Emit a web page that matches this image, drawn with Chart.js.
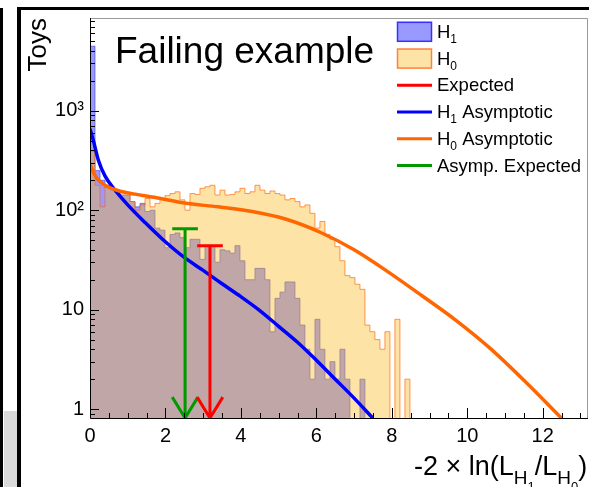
<!DOCTYPE html>
<html>
<head>
<meta charset="utf-8">
<title>Failing example</title>
<script src="https://cdn.jsdelivr.net/npm/chart.js@4.4.1/dist/chart.umd.min.js"></script>
<style>
  html, body { margin: 0; padding: 0; background: #fff; overflow: hidden; }
  #wrap { position: relative; width: 589px; height: 487px; }
  .edge { position: absolute; background: #000; }
  #gray { position: absolute; left: 4px; top: 411px; width: 13px; height: 76px; background: #d9d9d9; }
  canvas { position: absolute; left: 0; top: 0; }
</style>
</head>
<body>
<div id="wrap">
  <div class="edge" style="left:0;top:8px;width:3px;height:479px"></div>
  <div id="gray"></div>
  <div class="edge" style="left:17px;top:7px;width:4px;height:480px"></div>
  <div class="edge" style="left:17px;top:7px;width:572px;height:3px"></div>
  <canvas id="toysChart" width="589" height="487"></canvas>
</div>
<script>
'use strict';
// ******* Data *******
let binWidth = 0.1325;

// toys per bin, bin i = [i*binWidth, (i+1)*binWidth]
let h1Counts = [4450, 250, 200, 170, 160, 150, 142, 142, 122, 108,
  117, 97, 100, 66, 63, 42, 57, 59, 53, 42,
  51, 51, 32, 44, 44, 30, 40, 39, 37, 44,
  31, 20, 20, 26, 26, 20, 6, 13, 15, 19,
  19, 13, 7, 4, 2, 8, 4, 2, 3, 2,
  4, 2, 0, 0, 2];
let h0Counts = [390, 178, 108, 178, 166, 156, 153, 150, 122, 100,
  113, 131, 108, 117, 131, 140, 147, 153, 127, 100,
  147, 144, 166, 172, 178, 142, 159, 142, 144, 153,
  166, 147, 153, 178, 159, 147, 156, 147, 142, 127,
  131, 122, 108, 113, 93, 66, 77, 57, 51, 43,
  31, 22, 21, 18, 16, 7, 6, 5, 4, 6,
  0, 8, 0, 2];

// asymptotic curves
let h1AsymX = [0, 0.09, 0.22, 0.4, 0.66, 1.0, 1.46, 1.9, 2.5, 3.0, 3.5, 4.0, 4.5, 5.0, 5.5, 6.0, 6.5, 7.0, 7.5];
let h1AsymY = [660, 500, 320, 220, 160, 113, 75, 52, 33.5, 24.8, 18.2, 13.5, 9.8, 6.8, 4.7, 3.1, 2.0, 1.29, 0.81];
let h0AsymX = [0, 0.1, 0.2, 0.4, 0.8, 1.2, 1.7, 2.5, 3.4, 4.3, 5.2, 6.1, 7.0, 7.9, 8.8, 9.7, 10.6, 11.5, 12.5];
let h0AsymY = [286, 235, 205, 178, 155, 145, 135, 118, 108, 97, 81, 60, 40, 24, 13.8, 7.8, 4.1, 1.95, 0.81];

// arrows: position, top value, half width of bar / head, head height
let expectedX = 3.18;
let expectedTop = 44;
let asympExpectedX = 2.52;
let asympExpectedTop = 65;
let arrowHalf = 0.34;
let arrowHeadY = 1.32;

// axes
let xMin = 0;
let xMax = 13.2;
let yMin = 0.814;
let yMax = 8555;
let emptyLevel = 0.3;
let xTicks = [0, 2, 4, 6, 8, 10, 12];
let yTicks = [1, 10, 100, 1000];
let yTickLabels = ['1', '10', '10²', '10³'];

let legendNames = ['H_1', 'H_0', 'Expected', 'H_1 Asymptotic', 'H_0 Asymptotic', 'Asymp. Expected'];
let titleText = 'Failing example';
// [text, level] level 0 = normal, 1 = subscript, 2 = sub-subscript
let xTitleParts = [['-2 × ln(L', 0], ['H', 1], ['1', 2], ['/L', 0], ['H', 1], ['0', 2], [')', 0]];

const FONT = '"Liberation Sans", Arial, Helvetica, sans-serif';

// ****** helpers ******
function histPoints(counts) {
  let pts = [];
  for (let i = 0; i < counts.length; i++) {
    pts.push({x: i * binWidth, y: counts[i] > 0 ? counts[i] : emptyLevel});
  }
  pts.push({x: counts.length * binWidth, y: emptyLevel});
  return pts;
}

function curvePoints(xs, ys) {
  return xs.map((x, i) => ({x: x, y: ys[i]}));
}

function arrowPoints(x, top) {
  return [
    {x: x - arrowHalf, y: top}, {x: x + arrowHalf, y: top},
    {x: x, y: null},
    {x: x, y: top}, {x: x, y: yMin},
    {x: x, y: null},
    {x: x - arrowHalf, y: arrowHeadY}, {x: x, y: yMin}, {x: x + arrowHalf, y: arrowHeadY}
  ];
}

// ****** decorations: ROOT style axes, title, legend ******
let rootDecor = {
  id: 'rootDecor',
  afterDatasetsDraw(chart) {
    let {ctx, chartArea} = chart;
    let xs = chart.scales.x;
    let ys = chart.scales.y;
    ctx.save();
    // frame
    ctx.strokeStyle = '#999';
    ctx.lineWidth = 1;
    ctx.beginPath();
    ctx.moveTo(chartArea.left, chartArea.top + 0.5);
    ctx.lineTo(chartArea.right - 0.5, chartArea.top + 0.5);
    ctx.lineTo(chartArea.right - 0.5, chartArea.bottom);
    ctx.stroke();
    // axes
    ctx.strokeStyle = '#000';
    ctx.beginPath();
    ctx.moveTo(chartArea.left + 0.5, chartArea.top);
    ctx.lineTo(chartArea.left + 0.5, chartArea.bottom + 0.5);
    ctx.lineTo(chartArea.right, chartArea.bottom + 0.5);
    ctx.stroke();
    // x ticks
    ctx.beginPath();
    for (let v = 0; v <= xMax; v += 0.5) {
      let px = Math.round(xs.getPixelForValue(v)) + 0.5;
      let len = (v % 2 === 0) ? 10 : 5;
      ctx.moveTo(px, chartArea.bottom);
      ctx.lineTo(px, chartArea.bottom - len);
    }
    // y ticks
    for (let d = -1; d <= 3; d++) {
      for (let m = 1; m <= 9; m++) {
        let v = m * Math.pow(10, d);
        if (v < yMin || v > yMax) continue;
        let py = Math.round(ys.getPixelForValue(v)) + 0.5;
        let len = m === 1 ? 9 : 5;
        ctx.moveTo(chartArea.left, py);
        ctx.lineTo(chartArea.left + len, py);
      }
    }
    ctx.stroke();
    ctx.restore();
  },
  afterDraw(chart) {
    let ctx = chart.ctx;
    let sets = chart.data.datasets;
    ctx.save();
    ctx.fillStyle = '#000';
    ctx.textBaseline = 'alphabetic';
    // title
    ctx.font = '37px ' + FONT;
    ctx.fillText(titleText, 115, 63);

    // legend
    let rowTop = 31.8;
    let rowStep = 26.75;
    for (let i = 0; i < legendNames.length; i++) {
      let cy = rowTop + i * rowStep;
      let ds = sets[i];
      if (ds.fill) {
        ctx.fillStyle = '#fff';
        ctx.fillRect(397, cy - 10, 35, 20);
        ctx.fillStyle = ds.backgroundColor;
        ctx.fillRect(397, cy - 10, 35, 20);
        ctx.strokeStyle = ds.legendEdge;
        ctx.lineWidth = 1.5;
        ctx.strokeRect(397.5, cy - 9.5, 34, 19);
      } else {
        ctx.strokeStyle = ds.borderColor;
        ctx.lineWidth = 3;
        ctx.beginPath();
        ctx.moveTo(397, cy);
        ctx.lineTo(432, cy);
        ctx.stroke();
      }
      ctx.fillStyle = '#000';
      let x = 437;
      let pieces = legendNames[i].split(/_(\d)/);
      for (let k = 0; k < pieces.length; k++) {
        if (!pieces[k]) continue;
        let sub = k % 2 === 1;
        ctx.font = (sub ? 12 : 18.5) + 'px ' + FONT;
        ctx.fillText(pieces[k], x, cy + 6 + (sub ? 5 : 0));
        x += ctx.measureText(pieces[k]).width;
      }
    }

    // x axis title
    let sizes = [27, 19, 13];
    let drops = [0, 9, 16];
    let x = 414;
    for (let p of xTitleParts) {
      ctx.font = sizes[p[1]] + 'px ' + FONT;
      ctx.fillText(p[0], x, 475 + drops[p[1]]);
      x += ctx.measureText(p[0]).width;
    }
    ctx.restore();
  }
};

// ****** Chart ******
Chart.defaults.font.family = FONT;
let ctx = document.getElementById('toysChart');

let toysChartObj = {
  type: 'line',
  data: {
    datasets: [{
      label: 'H₁',
      data: histPoints(h1Counts),
      stepped: true,
      fill: 'start',
      backgroundColor: 'rgba(0,0,255,0.4)',
      borderColor: 'rgba(70,70,210,0.65)',
      legendEdge: '#3333ff',
      borderWidth: 1,
      order: 6
    },
    {
      label: 'H₀',
      data: histPoints(h0Counts),
      stepped: true,
      fill: 'start',
      backgroundColor: 'rgba(250,185,32,0.4)',
      borderColor: 'rgba(255,100,0,0.65)',
      legendEdge: '#ff8040',
      borderWidth: 1,
      order: 5
    },
    {
      label: 'Expected',
      data: arrowPoints(expectedX, expectedTop),
      borderColor: '#ff0000',
      borderWidth: 3,
      fill: false,
      spanGaps: false,
      order: 0
    },
    {
      label: 'H₁ Asymptotic',
      data: curvePoints(h1AsymX, h1AsymY),
      borderColor: '#0000ff',
      borderWidth: 3.5,
      cubicInterpolationMode: 'monotone',
      fill: false,
      order: 3
    },
    {
      label: 'H₀ Asymptotic',
      data: curvePoints(h0AsymX, h0AsymY),
      borderColor: '#ff6600',
      borderWidth: 3.5,
      cubicInterpolationMode: 'monotone',
      fill: false,
      order: 2
    },
    {
      label: 'Asymp. Expected',
      data: arrowPoints(asympExpectedX, asympExpectedTop),
      borderColor: '#009900',
      borderWidth: 3,
      fill: false,
      spanGaps: false,
      order: 1
    }]
  },
  options: {
    responsive: false,
    animation: false,
    events: [],
    layout: { padding: { top: 13, right: 1, left: 0, bottom: 0 } },
    elements: { point: { radius: 0 } },
    plugins: {
      legend: { display: false },
      tooltip: { enabled: false }
    },
    scales: {
      x: {
        type: 'linear',
        min: xMin,
        max: xMax,
        afterFit: s => { s.height = 69; },
        afterBuildTicks: s => { s.ticks = xTicks.map(v => ({value: v})); },
        grid: { display: false, drawTicks: false },
        border: { display: false },
        ticks: { color: '#000', font: { size: 20 }, padding: 6, maxRotation: 0, autoSkip: false }
      },
      y: {
        type: 'logarithmic',
        min: yMin,
        max: yMax,
        afterFit: s => { s.width = 90; },
        afterBuildTicks: s => { s.ticks = yTicks.map(v => ({value: v})); },
        grid: { display: false, drawTicks: false },
        border: { display: false },
        ticks: {
          color: '#000',
          font: { size: 20 },
          padding: 6,
          autoSkip: false,
          callback: (value, index) => yTickLabels[index]
        },
        title: {
          display: true,
          text: 'Toys',
          align: 'end',
          color: '#000',
          font: { size: 26 },
          padding: { top: 23, bottom: 0 }
        }
      }
    }
  },
  plugins: [rootDecor]
};

new Chart(ctx, toysChartObj);
</script>
</body>
</html>
